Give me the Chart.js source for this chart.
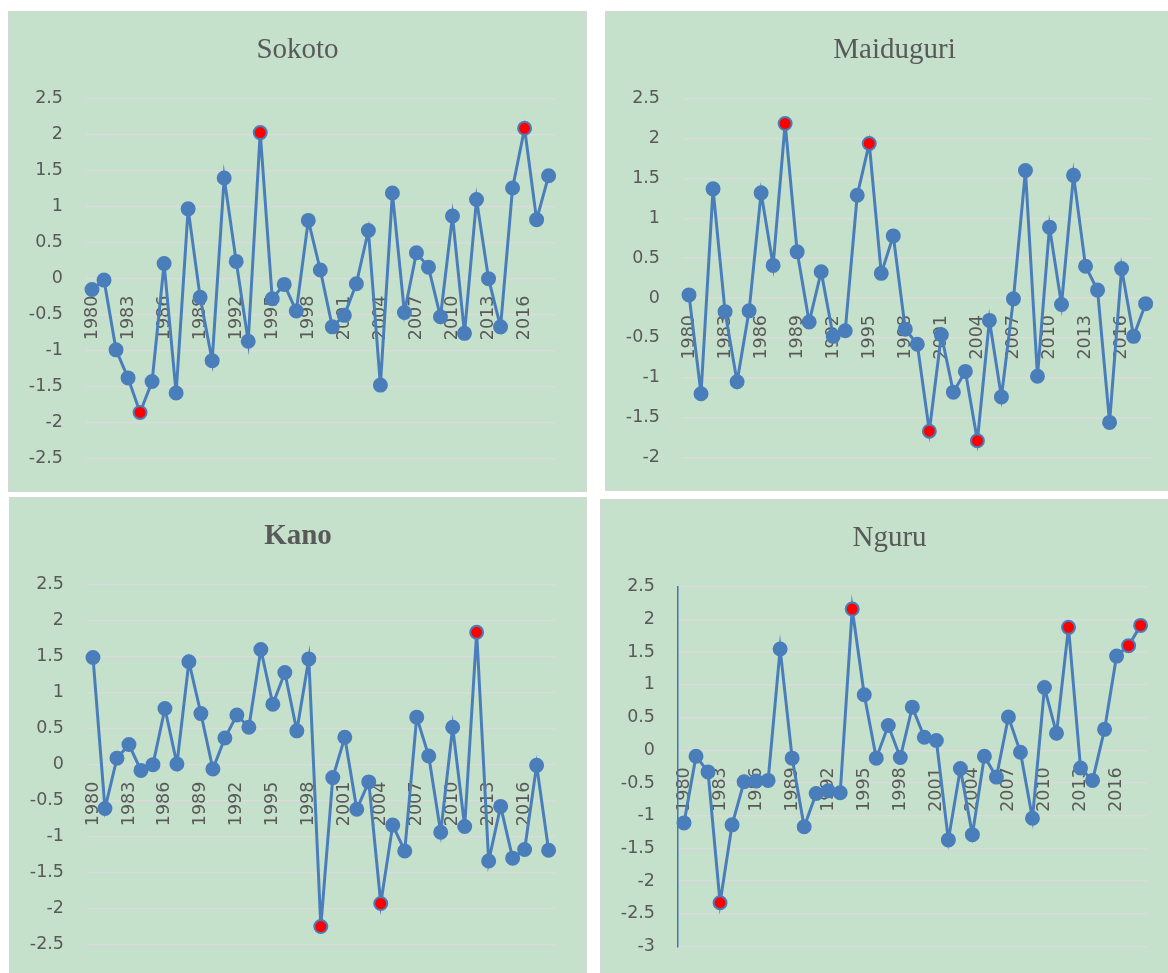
<!DOCTYPE html>
<html>
<head>
<meta charset="utf-8">
<title>Rainfall anomaly index</title>
<script src="https://cdn.jsdelivr.net/npm/chart.js@4.4.1/dist/chart.umd.min.js"></script>
<style>
  html, body { margin: 0; padding: 0; background: #ffffff; width: 1168px; height: 973px; overflow: hidden; }
  .panel { position: absolute; background: #c5e1cb; border: 1px solid #d4d8d4; box-sizing: border-box; overflow: hidden; }
  .panel canvas { position: absolute; left: -1px; top: -1px; }
</style>
</head>
<body>
<div class="panel" style="left:8px;top:11px;width:579px;height:481px"><canvas id="sokoto" width="579" height="481"></canvas></div>
<div class="panel" style="left:605px;top:11px;width:579px;height:480px"><canvas id="maiduguri" width="579" height="480"></canvas></div>
<div class="panel" style="left:9px;top:497px;width:578px;height:481px"><canvas id="kano" width="578" height="481"></canvas></div>
<div class="panel" style="left:600px;top:499px;width:579px;height:481px"><canvas id="nguru" width="579" height="481"></canvas></div>

<script>
// Years on the category axis
const years = ['1980','1981','1982','1983','1984','1985','1986','1987','1988','1989',
               '1990','1991','1992','1993','1994','1995','1996','1997','1998','1999',
               '2000','2001','2002','2003','2004','2005','2006','2007','2008','2009',
               '2010','2011','2012','2013','2014','2015','2016','2017','2018'];

// Years that get a label on the category axis
const yearTicks = ['1980','1983','1986','1989','1992','1995','1998','2001','2004','2007','2010','2013','2016'];

// Anomaly values per station, 1980-2018
const sokotoValues = [-0.15, -0.02, -0.99, -1.38, -1.86, -1.43, 0.21, -1.59, 0.97, -0.26,
                      -1.14, 1.40, 0.24, -0.87, 2.03, -0.28, -0.08, -0.45, 0.81, 0.12,
                      -0.67, -0.51, -0.07, 0.67, -1.48, 1.19, -0.47, 0.36, 0.16, -0.53,
                      0.87, -0.76, 1.10, 0.00, -0.67, 1.26, 2.09, 0.82, 1.43];
const maiduguriValues = [0.04, -1.20, 1.37, -0.17, -1.05, -0.16, 1.32, 0.41, 2.19, 0.58,
                         -0.30, 0.33, -0.48, -0.41, 1.29, 1.94, 0.31, 0.78, -0.39, -0.58,
                         -1.67, -0.46, -1.18, -0.92, -1.79, -0.28, -1.24, -0.01, 1.60, -0.98,
                         0.89, -0.08, 1.54, 0.40, 0.10, -1.56, 0.37, -0.48, -0.07];
const kanoValues = [1.49, -0.61, 0.09, 0.28, -0.08, 0.00, 0.78, 0.01, 1.43, 0.71,
                    -0.06, 0.37, 0.69, 0.52, 1.60, 0.84, 1.28, 0.47, 1.47, -2.25,
                    -0.18, 0.38, -0.62, -0.24, -1.93, -0.84, -1.20, 0.66, 0.12, -0.94,
                    0.52, -0.86, 1.84, -1.34, -0.58, -1.30, -1.18, -0.01, -1.19];
const nguruValues = [-1.11, -0.09, -0.33, -2.33, -1.14, -0.48, -0.47, -0.46, 1.55, -0.12,
                     -1.17, -0.66, -0.62, -0.65, 2.16, 0.85, -0.12, 0.38, -0.11, 0.66,
                     0.20, 0.15, -1.37, -0.28, -1.29, -0.09, -0.41, 0.51, -0.03, -1.04,
                     0.96, 0.26, 1.88, -0.27, -0.46, 0.32, 1.44, 1.60, 1.91];

// Extreme years, drawn with red markers
const sokotoExtremes = ['1984', '1994', '2016'];
const maiduguriExtremes = ['1988', '1995', '2000', '2004'];
const kanoExtremes = ['1999', '2004', '2012'];
const nguruExtremes = ['1983', '1994', '2012', '2017', '2018'];

// Value-axis ranges
const sokotoRange = [-2.5, 2.5];
const maiduguriRange = [-2, 2.5];
const kanoRange = [-2.5, 2.5];
const nguruRange = [-3, 2.5];

const LINE_BLUE = '#4a7ebb';
const EXTREME_RED = '#ff0000';
const TEXT_GREY = '#595959';
const GRID = '#dadcda';
const tickFont = { family: 'DejaVu Sans', size: 17.5 };

function stationChart(canvasId, title, boldTitle, values, extremes, range, showAxisLine) {
  return new Chart(document.getElementById(canvasId), {
    type: 'line',
    data: {
      labels: years,
      datasets: [{
        data: values,
        borderColor: LINE_BLUE,
        borderWidth: 3,
        tension: 0,
        pointRadius: 6.5,
        pointBorderWidth: 2,
        pointBorderColor: LINE_BLUE,
        pointBackgroundColor: years.map(y => extremes.includes(y) ? EXTREME_RED : LINE_BLUE)
      }]
    },
    options: {
      responsive: false,
      animation: false,
      events: [],
      layout: { padding: { left: 0, right: 0, top: 0, bottom: 30 } },
      plugins: {
        legend: { display: false },
        tooltip: { enabled: false },
        title: {
          display: true,
          text: title,
          color: TEXT_GREY,
          font: { family: 'Liberation Serif', size: 29, weight: boldTitle ? 'bold' : 'normal', lineHeight: 1.2 },
          padding: { top: 22, bottom: 31 }
        }
      },
      scales: {
        x: {
          type: 'category',
          offset: true,
          position: { y: 0 },
          grid: { display: false, drawTicks: false },
          border: { display: false },
          ticks: {
            autoSkip: false,
            minRotation: 90,
            maxRotation: 90,
            padding: 17,
            color: TEXT_GREY,
            font: tickFont,
            callback(value) {
              const label = this.getLabelForValue(value);
              return yearTicks.includes(label) ? label : '';
            }
          }
        },
        y: {
          min: range[0],
          max: range[1],
          grid: { color: GRID, lineWidth: 1.5, drawTicks: false },
          border: { display: showAxisLine, color: '#4472c4', width: 1.5 },
          ticks: {
            stepSize: 0.5,
            padding: 23,
            color: TEXT_GREY,
            font: tickFont,
            callback: v => String(v)
          },
          afterFit(scale) { scale.width = 78; }
        },
        // empty margin strip on the right of the plot
        yMargin: {
          type: 'linear',
          position: 'right',
          grid: { display: false, drawTicks: false },
          border: { display: false },
          ticks: { display: false },
          afterFit(scale) { scale.width = 30; }
        }
      }
    }
  });
}

stationChart('sokoto', 'Sokoto', false, sokotoValues, sokotoExtremes, sokotoRange, false);
stationChart('maiduguri', 'Maiduguri', false, maiduguriValues, maiduguriExtremes, maiduguriRange, false);
stationChart('kano', 'Kano', true, kanoValues, kanoExtremes, kanoRange, false);
stationChart('nguru', 'Nguru', false, nguruValues, nguruExtremes, nguruRange, true);
</script>
</body>
</html>
